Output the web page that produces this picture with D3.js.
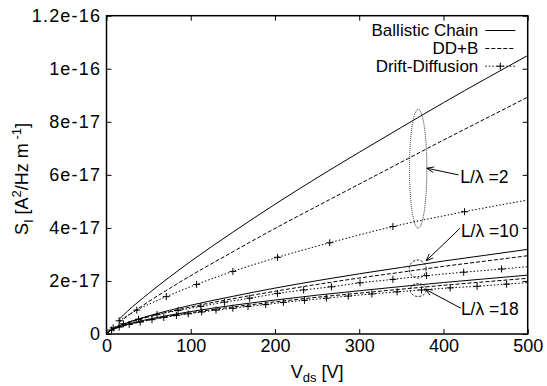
<!DOCTYPE html>
<html>
<head>
<meta charset="utf-8">
<script src="https://cdn.jsdelivr.net/npm/d3@7"></script>
<style>
  body { margin: 0; background: #fff; }
  svg { display: block; }
  text { font-family: "Liberation Sans", Arial, Helvetica, sans-serif; fill: #000; }
</style>
</head>
<body>
<svg id="chart"></svg>
<script>
// values of S_I are kept in units of 1e-18 A^2/Hz m^-1
const xTicks = [0, 100, 200, 300, 400, 500];
const yTicks = [0, 20, 40, 60, 80, 100, 120];
const yTickLabels = ["0", "2e-17", "4e-17", "6e-17", "8e-17", "1e-16", "1.2e-16"];

// L/lambda = 2
const vL2 = [15, 25, 50, 75, 100, 150, 200, 250, 300, 350, 400, 450, 500];
const ballisticL2 = [5.6, 8.6, 15.3, 21.5, 27.4, 38.4, 48.9, 58.9, 68.5, 77.9, 87.2, 96.2, 105];
const ddbL2 = [4.4, 6.8, 12.2, 17.2, 22.0, 31.0, 39.8, 48.2, 56.5, 64.8, 73.1, 81.2, 89.3];
const vDdL2 = [15, 36, 71, 107, 150, 203, 265, 340, 425, 500];
const ddL2 = [5.0, 9.0, 14.1, 18.7, 23.6, 28.9, 34.4, 40.5, 46.1, 50.5];

// L/lambda = 10 and 18 share a grid for the two solid/dashed curves
const vGrid = [0, 5, 10, 20, 30, 50, 75, 100, 150, 200, 250, 300, 350, 400, 450, 500];
const ballisticL10 = [0, 1.46, 2.32, 3.69, 4.85, 6.82, 8.95, 10.85, 14.2, 17.3, 20.1, 22.7, 25.1, 27.5, 29.7, 31.9];
const ddbL10 = [0, 1.41, 2.23, 3.52, 4.6, 6.45, 8.44, 10.2, 13.3, 16.1, 18.7, 21.1, 23.3, 25.5, 27.5, 29.5];
const vDdL10 = [0, 8, 20, 38, 60, 85, 112, 140, 170, 203, 234, 267, 301, 340, 380, 424, 469, 500];
const ddL10 = [0, 2.3, 3.85, 5.6, 7.3, 8.9, 10.4, 12.0, 13.5, 15.3, 16.6, 17.8, 19.3, 20.6, 22.0, 23.3, 24.5, 25.4];

const ballisticL18 = [0, 1.40, 2.12, 3.22, 4.1, 5.57, 7.11, 8.46, 10.8, 12.8, 14.65, 16.3, 17.9, 19.4, 20.8, 22.2];
const ddbL18 = [0, 1.32, 2.0, 3.05, 3.88, 5.27, 6.73, 8.0, 10.2, 12.1, 13.86, 15.4, 16.9, 18.35, 19.7, 21.0];
const vDdL18 = [0, 6, 15, 27, 40, 54, 68, 83, 97, 113, 130, 150, 168, 189, 210, 235, 261, 287, 315, 345, 374, 408, 440, 475, 500];
const ddL18 = [0, 1.5, 2.6, 3.6, 4.5, 5.4, 6.2, 7.0, 7.6, 8.3, 9.0, 9.7, 10.4, 11.1, 11.9, 12.7, 13.5, 14.3, 15.1, 15.9, 16.6, 17.4, 18.0, 18.8, 19.4];

const legendNames = ["Ballistic Chain", "DD+B", "Drift-Diffusion"];

// annotation groups: label, label anchor, arrow tail -> head, ellipse (all in data units)
const annoLabels = ["L/\u03bb =2", "L/\u03bb =10", "L/\u03bb =18"];
const annoLabelPos = [[420, 56.9], [420.7, 36.7], [420.7, 7.2]];
const annoArrows = [[[417.8, 60.0], [380.3, 62.5]], [[419.8, 39.9], [379.5, 27.6]], [[420.7, 9.7], [378.3, 16.9]]];
const annoEllipses = [[370, 62.3, 10.3, 22.4], [369.4, 24.5, 10.1, 3.4], [370, 16.6, 9.5, 2.45]];

const width = 547, height = 386;
const margin = { top: 15.7, right: 19.3, bottom: 52, left: 106.5 };
const innerW = width - margin.left - margin.right;
const innerH = height - margin.top - margin.bottom;

const svg = d3.select("#chart").attr("width", width).attr("height", height);
const g = svg.append("g").attr("transform", `translate(${margin.left},${margin.top})`);

const x = d3.scaleLinear().domain([0, 500]).range([0, innerW]);
const y = d3.scaleLinear().domain([0, 120]).range([innerH, 0]);

const fontSize = 18;

// axes, ticks pointing inward and mirrored on top/right
const xAxis = g.append("g").attr("transform", `translate(0,${innerH})`)
  .call(d3.axisBottom(x).tickValues(xTicks).tickSize(-5).tickPadding(5).tickFormat(d3.format("d")));
const yAxis = g.append("g")
  .call(d3.axisLeft(y).tickValues(yTicks).tickSize(-5).tickPadding(5.3).tickFormat((d, i) => yTickLabels[i]));
g.append("g").call(d3.axisTop(x).tickValues(xTicks).tickSize(-5).tickFormat(""));
g.append("g").attr("transform", `translate(${innerW},0)`)
  .call(d3.axisRight(y).tickValues(yTicks).tickSize(-5).tickFormat(""));

g.selectAll(".domain").remove();
g.selectAll(".tick line").attr("stroke", "#000").attr("stroke-width", 1);
g.selectAll(".tick text").style("font-size", fontSize + "px").attr("fill", "#000");
// the y labels in the original are set a bit wider
yAxis.selectAll(".tick text").style("letter-spacing", "1.2px");

g.append("rect").attr("width", innerW).attr("height", innerH)
  .attr("fill", "none").attr("stroke", "#000").attr("stroke-width", 1.5);

// series
const styles = {
  ballistic: { dash: null },
  ddb: { dash: "4,2" },
  dd: { dash: "1.5,2" }
};

const line = d3.line().x(d => x(d[0])).y(d => y(d[1])).curve(d3.curveMonotoneX);
const zip = (vs, ss) => vs.map((v, i) => [v, ss[i]]);

const series = [
  { type: "ballistic", pts: zip(vL2, ballisticL2) },
  { type: "ddb", pts: zip(vL2, ddbL2) },
  { type: "dd", pts: zip(vDdL2, ddL2) },
  { type: "ballistic", pts: zip(vGrid, ballisticL10) },
  { type: "ddb", pts: zip(vGrid, ddbL10) },
  { type: "dd", pts: zip(vDdL10, ddL10) },
  { type: "ballistic", pts: zip(vGrid, ballisticL18) },
  { type: "ddb", pts: zip(vGrid, ddbL18) },
  { type: "dd", pts: zip(vDdL18, ddL18) }
];

const plot = g.append("g");
series.forEach(s => {
  plot.append("path").datum(s.pts)
    .attr("d", line)
    .attr("fill", "none").attr("stroke", "#000").attr("stroke-width", 1)
    .attr("stroke-dasharray", styles[s.type].dash);
  if (s.type === "dd") {
    // gnuplot style "+" at every data point except the end on the frame
    const m = s.pts.filter(p => p[0] > 0 && p[0] < 500);
    plot.append("g").selectAll("path").data(m).enter().append("path")
      .attr("d", d => `M${x(d[0]) - 3.5},${y(d[1])}h7M${x(d[0])},${y(d[1]) - 3.5}v7`)
      .attr("stroke", "#000").attr("stroke-width", 1);
  }
});

// annotations
const anno = g.append("g");
svg.append("defs").append("marker").attr("id", "arrow")
  .attr("viewBox", "0 0 10 10").attr("refX", 10).attr("refY", 5)
  .attr("markerWidth", 9).attr("markerHeight", 7).attr("orient", "auto")
  .attr("markerUnits", "userSpaceOnUse")
  .append("path").attr("d", "M0,1L10,5L0,9").attr("fill", "none").attr("stroke", "#000").attr("stroke-width", 1.3);

annoEllipses.forEach((e, i) => {
  anno.append("ellipse")
    .attr("cx", x(e[0])).attr("cy", y(e[1]))
    .attr("rx", x(e[2]) - x(0)).attr("ry", y(0) - y(e[3]))
    .attr("fill", "none").attr("stroke", "#222").attr("stroke-width", 1)
    .attr("stroke-dasharray", i === 0 ? "1,1" : "2.5,1.5");
});
annoArrows.forEach(a => {
  anno.append("line")
    .attr("x1", x(a[0][0])).attr("y1", y(a[0][1]))
    .attr("x2", x(a[1][0])).attr("y2", y(a[1][1]))
    .attr("stroke", "#000").attr("stroke-width", 1)
    .attr("marker-end", "url(#arrow)");
});
annoLabels.forEach((t, i) => {
  anno.append("text")
    .attr("x", x(annoLabelPos[i][0])).attr("y", y(annoLabelPos[i][1]))
    .style("font-size", "17.5px").text(t);
});

// legend
const legend = g.append("g");
const legRight = 478.3 - margin.left;
const legBase = [36, 54, 71.7].map(v => v - margin.top);
legendNames.forEach((name, i) => {
  legend.append("text")
    .attr("x", legRight).attr("y", legBase[i])
    .attr("text-anchor", "end").style("font-size", "17px").text(name);
  const ly = legBase[i] - 5.5;
  legend.append("line")
    .attr("x1", legRight + 7).attr("x2", legRight + 37).attr("y1", ly).attr("y2", ly)
    .attr("stroke", "#000").attr("stroke-width", 1)
    .attr("stroke-dasharray", styles[["ballistic", "ddb", "dd"][i]].dash);
  if (i === 2) {
    legend.append("path")
      .attr("d", `M${legRight + 22 - 3.5},${ly}h7M${legRight + 22},${ly - 3.5}v7`)
      .attr("stroke", "#000").attr("stroke-width", 1);
  }
});

// axis titles
const xt = svg.append("text")
  .attr("x", margin.left + innerW / 2).attr("y", 377.5)
  .attr("text-anchor", "middle").style("font-size", fontSize + "px");
xt.append("tspan").text("V");
xt.append("tspan").attr("dy", 4.5).style("font-size", "13px").text("ds");
xt.append("tspan").attr("dy", -4.5).text(" [V]");

const yt = svg.append("text")
  .attr("transform", `translate(28,179) rotate(-90)`)
  .attr("text-anchor", "middle").style("font-size", fontSize + "px");
yt.append("tspan").text("S");
yt.append("tspan").attr("dy", 4.5).style("font-size", "13px").text("I");
yt.append("tspan").attr("dy", -4.5).text(" [A");
yt.append("tspan").attr("dy", -7).style("font-size", "13px").text("2");
yt.append("tspan").attr("dy", 7).text("/Hz m");
yt.append("tspan").attr("dy", -7).style("font-size", "13px").text(" -1");
yt.append("tspan").attr("dy", 7).text("]");
</script>
</body>
</html>
